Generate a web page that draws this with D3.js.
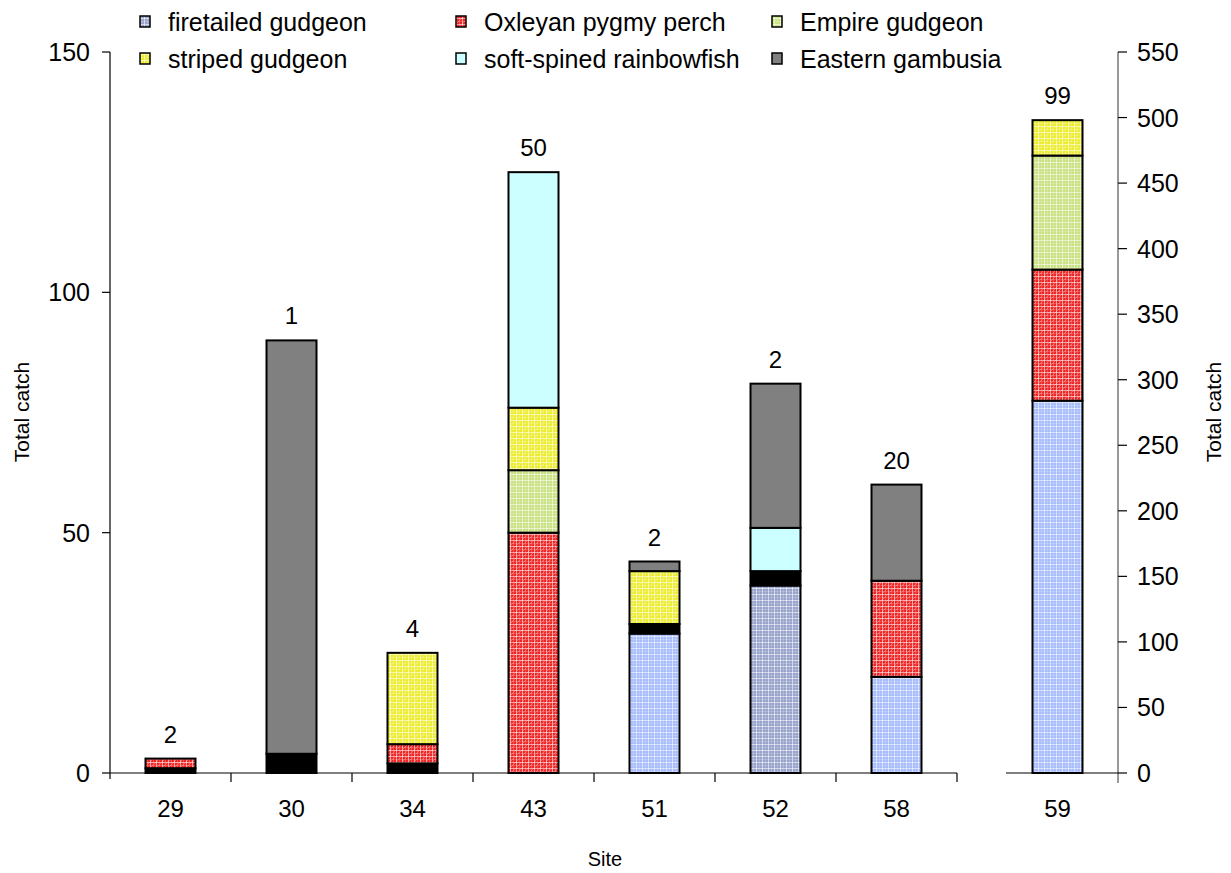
<!DOCTYPE html>
<html>
<head>
<meta charset="utf-8">
<script src="https://cdn.jsdelivr.net/npm/d3@7"></script>
<style>
  body { margin: 0; background: #fff; }
  text { font-family: "Liberation Sans", Arial, sans-serif; fill: #000; }
</style>
</head>
<body>
<svg id="chart"></svg>
<script>
// Set dimensions
const width = 1231, height = 873;

// Categories (last site drawn on the right-hand axis)
const sitesLeft = ["29", "30", "34", "43", "51", "52", "58"];
const sitesRight = ["59"];
const sampleCounts = [2, 1, 4, 50, 2, 2, 20, 99];
const leftTicks = [0, 50, 100, 150];
const rightTicks = [0, 50, 100, 150, 200, 250, 300, 350, 400, 450, 500, 550];

// Catch per species, one value per site (29, 30, 34, 43, 51, 52, 58, 59)
const blueGudgeon = [0, 0, 0, 0, 29, 0, 20, 284];
const firetailedGudgeon = [0, 0, 0, 0, 0, 39, 0, 0];
const otherSpecies = [1, 4, 2, 0, 2, 3, 0, 0];
const oxleyanPygmyPerch = [2, 0, 4, 50, 0, 0, 20, 100];
const empireGudgeon = [0, 0, 0, 13, 0, 0, 0, 87];
const stripedGudgeon = [0, 0, 19, 13, 11, 0, 0, 27];
const rainbowfish = [0, 0, 0, 49, 0, 9, 0, 0];
const easternGambusia = [0, 86, 0, 0, 2, 30, 20, 0];

const series = [
    { key: "blue", label: null, values: blueGudgeon, fill: "url(#pBlue)" },
    { key: "fire", label: "firetailed gudgeon", values: firetailedGudgeon, fill: "url(#pFire)" },
    { key: "other", label: null, values: otherSpecies, fill: "#000" },
    { key: "oxley", label: "Oxleyan pygmy perch", values: oxleyanPygmyPerch, fill: "url(#pRed)" },
    { key: "empire", label: "Empire gudgeon", values: empireGudgeon, fill: "url(#pGreen)" },
    { key: "striped", label: "striped gudgeon", values: stripedGudgeon, fill: "url(#pYellow)" },
    { key: "rainbow", label: "soft-spined rainbowfish", values: rainbowfish, fill: "#ccffff" },
    { key: "gambusia", label: "Eastern gambusia", values: easternGambusia, fill: "#808080" }
];
const legendOrder = ["fire", "oxley", "empire", "striped", "rainbow", "gambusia"];

const allSites = sitesLeft.concat(sitesRight);
const rows = allSites.map((s, i) => {
    const r = { site: s, idx: i };
    series.forEach(sr => r[sr.key] = sr.values[i]);
    return r;
});
const stacked = d3.stack().keys(series.map(s => s.key))(rows);

const svg = d3.select("#chart").attr("width", width).attr("height", height);

// Patterns for the hatched fills
const defs = svg.append("defs");
const patterns = [
    { id: "pBlue", base: "#a6bcfc", diag: false },
    { id: "pFire", base: "#98a3cb", diag: false },
    { id: "pRed", base: "#ee2626", diag: true },
    { id: "pGreen", base: "#cbe284", diag: false },
    { id: "pYellow", base: "#ecec2c", diag: true }
];
patterns.forEach(p => {
    const pat = defs.append("pattern").attr("id", p.id)
        .attr("patternUnits", "userSpaceOnUse").attr("width", 6).attr("height", 6);
    pat.append("rect").attr("width", 6).attr("height", 6).attr("fill", p.base);
    pat.append("path").attr("d", "M0,0.5H6M0.5,0V6")
        .attr("stroke", "#fff").attr("stroke-width", 1).attr("stroke-opacity", 0.55);
    pat.append("path").attr("d", "M3.5,0V6M0,3.5H6")
        .attr("stroke", "#fff").attr("stroke-width", 0.6).attr("stroke-opacity", 0.3);
    if (p.diag) {
        pat.append("path").attr("d", "M0,6L6,0M-1,1L1,-1M5,7L7,5")
            .attr("stroke", "#fff").attr("stroke-width", 0.8).attr("stroke-opacity", 0.35);
    }
});

// Scales
const baseY = 773, topY = 52;
const xLeft = d3.scaleBand().domain(sitesLeft).range([110, 957]);
const xRight = d3.scaleBand().domain(sitesRight).range([997, 1118]);
const yLeft = d3.scaleLinear().domain([0, 150]).range([baseY, topY]);
const yRight = d3.scaleLinear().domain([0, 550]).range([baseY, topY]);
const barW = 50;

const xOf = i => i < sitesLeft.length ? xLeft(allSites[i]) + xLeft.bandwidth() / 2 : xRight(allSites[i]) + xRight.bandwidth() / 2;
const yOf = i => i < sitesLeft.length ? yLeft : yRight;

// Bars
stacked.forEach((layer, li) => {
    const sr = series[li];
    svg.append("g").selectAll("rect")
        .data(layer.filter(d => d[1] > d[0]))
        .enter().append("rect")
        .attr("x", d => xOf(d.data.idx) - barW / 2)
        .attr("y", d => yOf(d.data.idx)(d[1]))
        .attr("width", barW)
        .attr("height", d => yOf(d.data.idx)(d[0]) - yOf(d.data.idx)(d[1]))
        .attr("fill", sr.fill)
        .attr("stroke", "#000")
        .attr("stroke-width", 2);
});

// Labels above bars
const totals = rows.map((r, i) => d3.sum(series, s => s.values[i]));
svg.append("g").selectAll("text")
    .data(sampleCounts)
    .enter().append("text")
    .attr("x", (d, i) => xOf(i))
    .attr("y", (d, i) => yOf(i)(totals[i]) - 16)
    .attr("text-anchor", "middle")
    .attr("font-size", "24px")
    .text(d => d);

// Left axis
const axisColor = "#000";
svg.append("line").attr("x1", 110).attr("x2", 110).attr("y1", topY).attr("y2", baseY + 6)
    .attr("stroke", axisColor).attr("stroke-width", 1.2);
leftTicks.forEach(t => {
    svg.append("line").attr("x1", 102).attr("x2", 110).attr("y1", yLeft(t)).attr("y2", yLeft(t))
        .attr("stroke", axisColor).attr("stroke-width", 1.2);
    svg.append("text").attr("x", 90).attr("y", yLeft(t) + 9)
        .attr("text-anchor", "end").attr("font-size", "25px").text(t);
});

// Right axis
svg.append("line").attr("x1", 1118).attr("x2", 1118).attr("y1", topY).attr("y2", baseY + 10)
    .attr("stroke", "#555").attr("stroke-width", 1.2);
rightTicks.forEach(t => {
    svg.append("line").attr("x1", 1118).attr("x2", 1127).attr("y1", yRight(t)).attr("y2", yRight(t))
        .attr("stroke", axisColor).attr("stroke-width", 1.2);
    svg.append("text").attr("x", 1137).attr("y", yRight(t) + 9)
        .attr("font-size", "25px").text(t);
});

// Category axes
svg.append("line").attr("x1", 110).attr("x2", 957).attr("y1", baseY).attr("y2", baseY)
    .attr("stroke", axisColor).attr("stroke-width", 1.2);
sitesLeft.forEach(s => {
    const bx = xLeft(s) + xLeft.bandwidth();
    svg.append("line").attr("x1", bx).attr("x2", bx).attr("y1", baseY).attr("y2", baseY + 9)
        .attr("stroke", axisColor).attr("stroke-width", 1.2);
});
svg.append("line").attr("x1", xRight.range()[0] + 9).attr("x2", 1118).attr("y1", baseY).attr("y2", baseY)
    .attr("stroke", axisColor).attr("stroke-width", 1.2);
allSites.forEach((s, i) => {
    svg.append("text").attr("x", xOf(i)).attr("y", 817)
        .attr("text-anchor", "middle").attr("font-size", "24px").text(s);
});

// Axis titles
svg.append("text").attr("x", 605).attr("y", 866).attr("text-anchor", "middle")
    .attr("font-size", "20px").text("Site");
svg.append("text").attr("transform", `translate(29, 412) rotate(-90)`)
    .attr("text-anchor", "middle").attr("font-size", "21px").text("Total catch");
svg.append("text").attr("transform", `translate(1221, 412) rotate(-90)`)
    .attr("text-anchor", "middle").attr("font-size", "21px").text("Total catch");

// Legend
const legendCols = [140, 456, 772], legendRows = [22, 59];
legendOrder.forEach((k, i) => {
    const sr = series.find(s => s.key === k);
    const lx = legendCols[i % 3], ly = legendRows[Math.floor(i / 3)];
    svg.append("rect").attr("x", lx).attr("y", ly - 6).attr("width", 10).attr("height", 11)
        .attr("fill", sr.fill).attr("stroke", "#000").attr("stroke-width", 1.5);
    svg.append("text").attr("x", lx + 28).attr("y", ly + 9)
        .attr("font-size", "25px").text(sr.label);
});
</script>
</body>
</html>
